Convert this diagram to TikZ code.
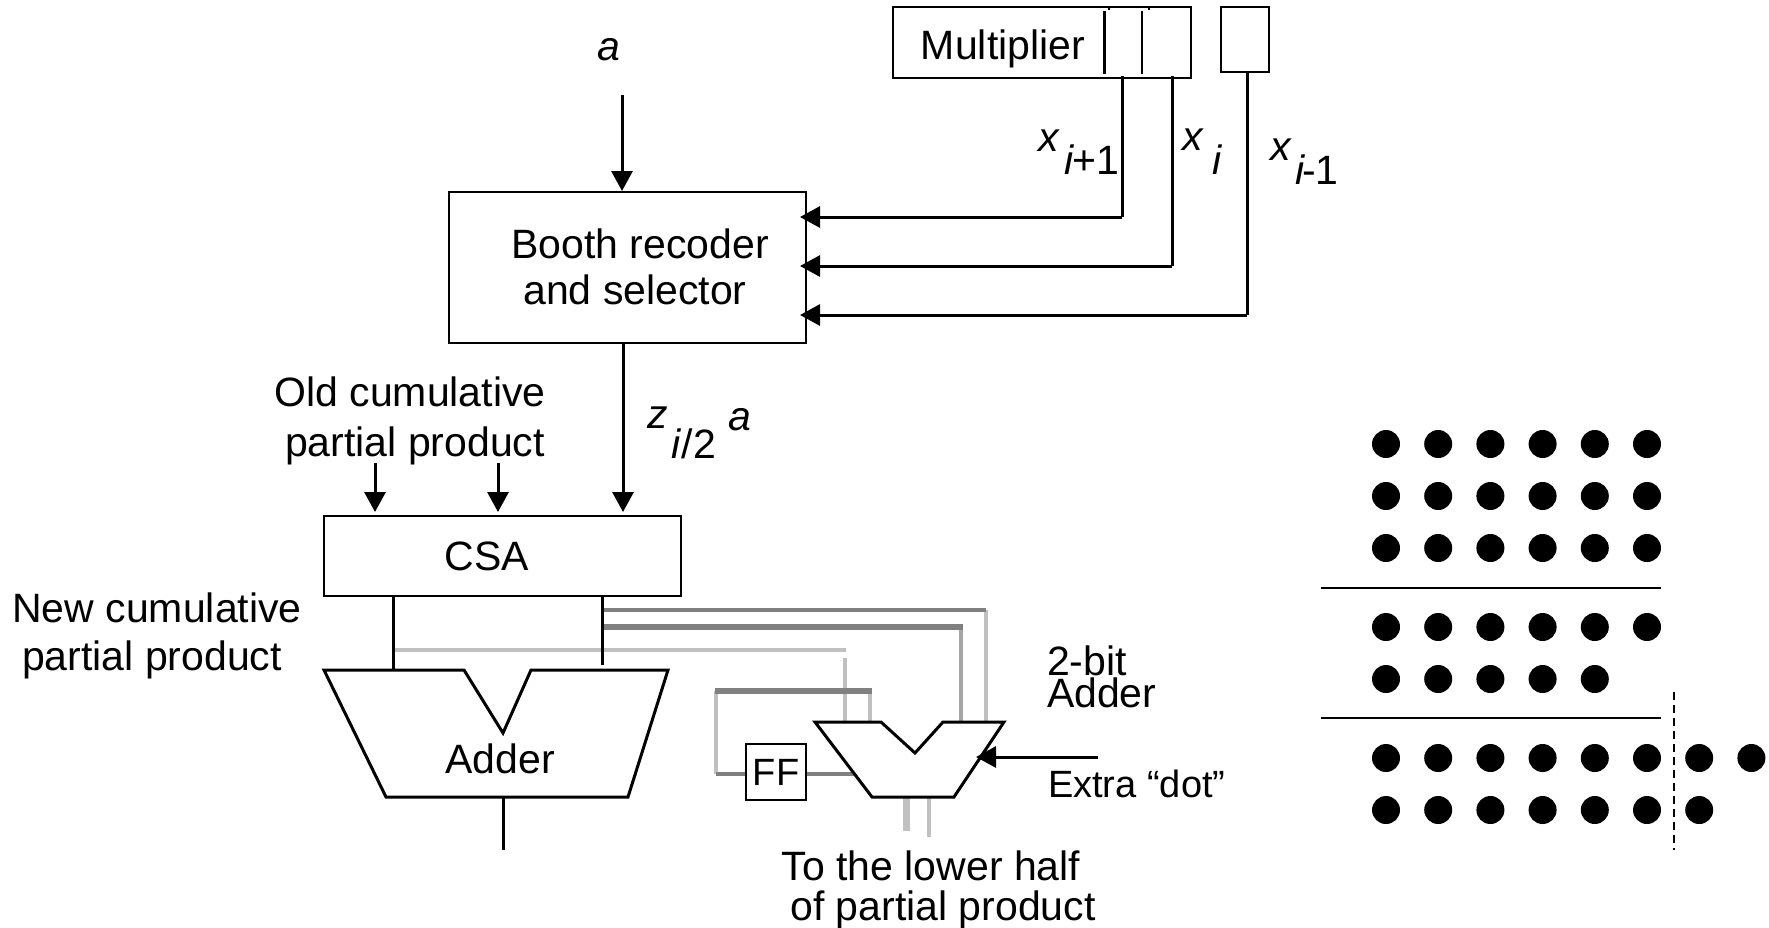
\documentclass[tikz,border=0pt]{standalone}
\usepackage{fontspec}
\setmainfont{Liberation Sans}
\usetikzlibrary{arrows.meta}
\definecolor{busdark}{HTML}{808080}
\definecolor{buslight}{HTML}{C0C0C0}
\definecolor{busmid}{HTML}{A6A6A6}
\tikzset{
  x=1pt,y=-1pt,
  every node/.style={inner sep=0pt,outer sep=0pt,font=\fontsize{41}{47}\selectfont},
  wire/.style={draw=black,line width=3pt},
  arrowwire/.style={wire,-{Triangle[length=20pt,width=21pt]}},
  box/.style={draw=black,line width=2.8pt,fill=white,minimum width=0pt},
  shapeline/.style={draw=black,line width=3pt,fill=white,line join=miter},
  busdarkfat/.style={draw=busdark,line width=6.5pt},
  busdarkthin/.style={draw=busdark,line width=4pt},
  buslightthin/.style={draw=buslight,line width=3.6pt},
  busmidthin/.style={draw=busmid,line width=4pt},
  dotnode/.style={circle,fill=black,minimum size=28pt},
  rule/.style={draw=black,line width=2pt},
  lab/.style={anchor=center},
  labl/.style={anchor=west},
}
\begin{document}
\begin{tikzpicture}
\useasboundingbox (0,0) rectangle (1769,927);
% boxes
\node[box,minimum width=298pt,minimum height=71pt] (mult) at (1042,42.5) {};
\node[box,minimum width=48pt,minimum height=65pt] (prev) at (1245,39.5) {};
\node[box,minimum width=357pt,minimum height=151pt] (booth) at (627.5,267.5) {};
\node[box,minimum width=357pt,minimum height=80pt] (csa) at (502.5,556) {};
% named points
\coordinate (aIn) at (622,95); \coordinate (aTip) at (622,191);
\coordinate (cellA1) at (1104,11); \coordinate (cellA2) at (1104,74);
\coordinate (cellB1) at (1142,11); \coordinate (cellB2) at (1142,74);
\coordinate (tickA1) at (1109,7); \coordinate (tickA2) at (1109,10);
\coordinate (tickB1) at (1149,7); \coordinate (tickB2) at (1149,10);
\coordinate (xp) at (1122,76);  \coordinate (xpc) at (1122,217); \coordinate (xpe) at (800,217);
\coordinate (xc) at (1172,76);  \coordinate (xcc) at (1172,266); \coordinate (xce) at (800,266);
\coordinate (xm) at (1247,72);  \coordinate (xmc) at (1247,315); \coordinate (xme) at (800,315);
\coordinate (oldA1) at (375,463); \coordinate (oldA2) at (375,512);
\coordinate (oldB1) at (498,463); \coordinate (oldB2) at (498,512);
\coordinate (zOut) at (623,343); \coordinate (zIn) at (623,512);
\coordinate (csaL) at (393,596); \coordinate (addL) at (393,670);
\coordinate (csaR) at (602,596); \coordinate (addR) at (602,665);
\coordinate (addOut) at (503,798); \coordinate (addEnd) at (503,850);
\coordinate (b1a) at (602,610); \coordinate (b1b) at (986,610); \coordinate (b1c) at (986,722);
\coordinate (b2a) at (602,627); \coordinate (b2b) at (963,627); \coordinate (b2c) at (961,627); \coordinate (b2d) at (961,722);
\coordinate (b3a) at (393,650); \coordinate (b3b) at (846,650);
\coordinate (b3c) at (845,658); \coordinate (b3d) at (845,722);
\coordinate (l1) at (715,691); \coordinate (l2) at (872,691);
\coordinate (l3) at (716,691); \coordinate (l4) at (716,774); \coordinate (l5) at (746,774);
\coordinate (l6) at (870,691); \coordinate (l7) at (870,722);
\coordinate (ffOut) at (806,774); \coordinate (ffIn) at (855,774);
\coordinate (o1a) at (906,797); \coordinate (o1b) at (906,831);
\coordinate (o2a) at (929,797); \coordinate (o2b) at (929,837);
\coordinate (exS) at (1098,757); \coordinate (exE) at (976,757);
% buses
\draw[buslightthin] (b1b) -- (b1c);
\draw[busdarkthin] (b1a) -- (b1b);
\draw[busmidthin] (b2c) -- (b2d);
\draw[busdarkfat] (b2a) -- (b2b);
\draw[buslightthin] (b3a) -- (b3b);
\draw[buslightthin] (b3c) -- (b3d);
\draw[buslightthin] (l6) -- (l7);
\draw[buslightthin] (l3) -- (l4);
\draw[busdarkthin] (l4) -- (l5);
\draw[busdarkthin] (ffOut) -- (ffIn);
\draw[busdarkfat] (l1) -- (l2);
\draw[buslight,line width=7pt] (o1a) -- (o1b);
\draw[buslight,line width=3.6pt] (o2a) -- (o2b);
% wires in the top
\draw[wire] (cellA1) -- (cellA2);
\draw[wire,line width=2pt] (cellB1) -- (cellB2);
\draw[wire,line width=2pt] (tickA1) -- (tickA2);
\draw[wire,line width=2pt] (tickB1) -- (tickB2);
\draw[arrowwire] (aIn) -- (aTip);
\draw[wire] (xp) -- (xpc);
\draw[arrowwire] (xpc) -- (xpe);
\draw[wire] (xc) -- (xcc);
\draw[arrowwire] (xcc) -- (xce);
\draw[wire] (xm) -- (xmc);
\draw[arrowwire] (xmc) -- (xme);
\draw[arrowwire] (zOut) -- (zIn);
\draw[arrowwire] (oldA1) -- (oldA2);
\draw[arrowwire] (oldB1) -- (oldB2);
\draw[wire] (csaL) -- (addL);
\draw[wire] (csaR) -- (addR);
\draw[wire] (addOut) -- (addEnd);
% adders
\draw[shapeline] (324,670) -- (464,670) -- (503,733) -- (531,670) -- (668,670) -- (628,797) -- (386,797) -- cycle;
\draw[shapeline] (815,722) -- (881,722) -- (915,753) -- (943,722) -- (1004,722) -- (954,797) -- (872,797) -- cycle;
\node[box,minimum width=60pt,minimum height=56pt,font=\fontsize{38}{44}\selectfont] (ff) at (776,772) {FF};
\draw[arrowwire] (exS) -- (exE);
% labels
\node[lab] (mulT) at (1003,49) {Multiplier};
\node[lab] (aT) at (609,50) {\itshape a};
\node[lab] (x1) at (1049,141) {\itshape x};
\node[lab] (x1s) at (1092,160) {\textit{i}\kern-2pt+1};
\node[lab] (x2) at (1193,140) {\itshape x};
\node[lab] (x2s) at (1217,160) {\itshape i};
\node[lab] (x3) at (1281,150) {\itshape x};
\node[lab] (x3s) at (1317,170) {\textit{i}\kern-3pt-1};
\node[lab] (bt1) at (640,244) {Booth recoder};
\node[lab] (bt2) at (635,290) {and selector};
\node[lab] (ot1) at (410,392) {Old cumulative};
\node[lab] (ot2) at (415,446) {partial product};
\node[lab] (z) at (658,418) {\itshape z};
\node[lab] (zs) at (694,444) {\textit{i}/2};
\node[lab] (za) at (740,420) {\itshape a};
\node[lab] (csaT) at (487,556) {CSA};
\node[lab] (nt1) at (157,608) {New cumulative};
\node[lab] (nt2) at (152,660) {partial product};
\node[lab] (addT) at (500,759) {Adder};
\node[labl] (tb1) at (1047,661) {2-bit};
\node[labl] (tb2) at (1047,693) {Adder};
\node[labl,font=\fontsize{38}{44}\selectfont] (ext) at (1048,784) {Extra “dot”};
\node[lab] (lh1) at (931,866) {To the lower half};
\node[lab] (lh2) at (943,910) {of partial product};
% dot diagram
\foreach \row/\yy/\cnt in {1/444/6,2/496/6,3/548/6,4/627/6,5/679/5,6/758/8,7/810/7}{
  \foreach \col in {1,...,\cnt}{
    \node[dotnode] (d\row-\col) at ({1386+52.2*(\col-1)},\yy) {};
  }
}
\coordinate (r1a) at (1321,588); \coordinate (r1b) at (1661,588);
\coordinate (r2a) at (1321,718); \coordinate (r2b) at (1661,718);
\coordinate (dsa) at (1674,692); \coordinate (dsb) at (1674,850);
\draw[rule] (r1a) -- (r1b);
\draw[rule] (r2a) -- (r2b);
\draw[draw=black,line width=2pt,dash pattern=on 8pt off 5pt] (dsa) -- (dsb);
\end{tikzpicture}
\end{document}
